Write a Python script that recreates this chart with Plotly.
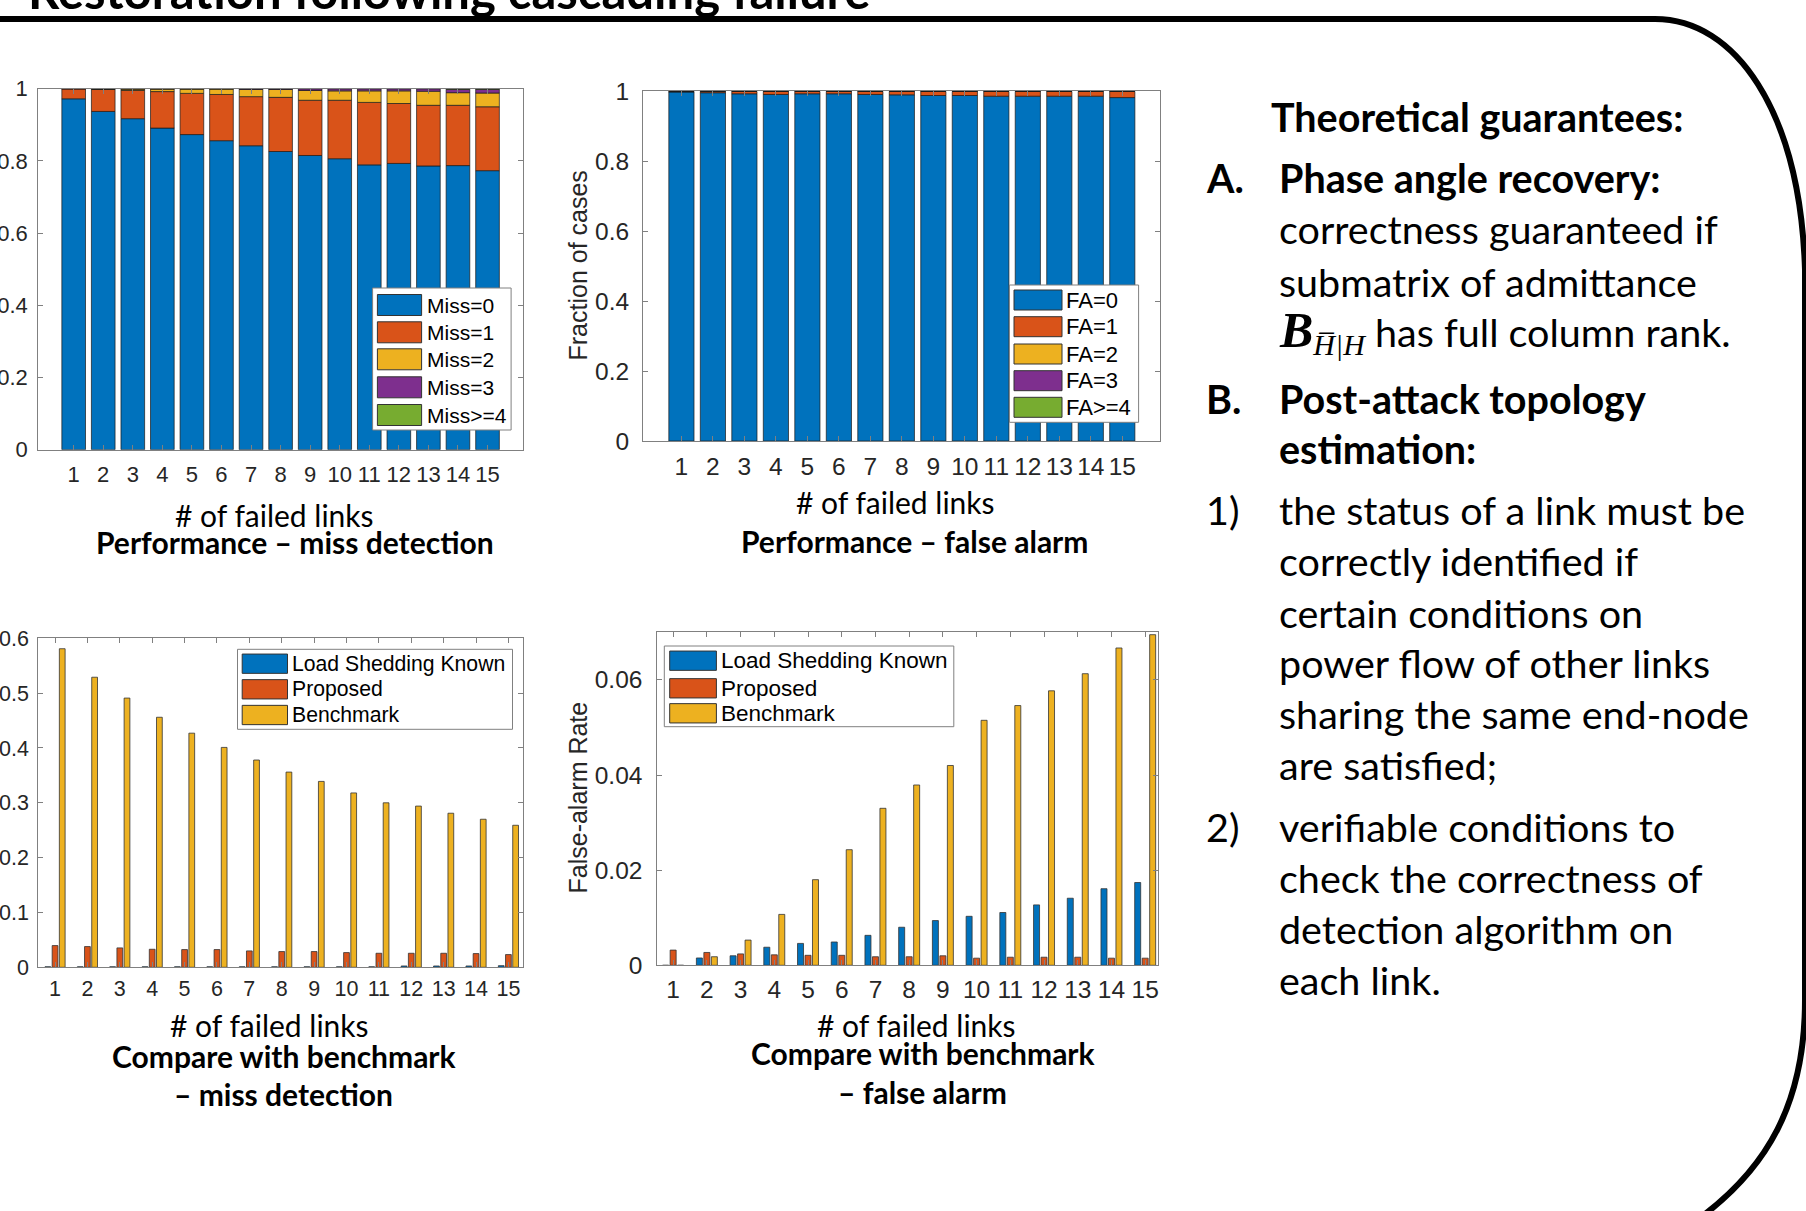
import plotly.graph_objects as go
import numpy as np

W, H = 1806, 1211

# ---------------- data ----------------
failed_links = list(range(1, 16))
x_tick_labels = [str(i) for i in failed_links]

miss0 = [0.972, 0.937, 0.917, 0.891, 0.873, 0.856, 0.842, 0.826, 0.815, 0.806, 0.789, 0.793, 0.786, 0.787, 0.773]
miss1 = [0.028, 0.061, 0.078, 0.101, 0.114, 0.128, 0.136, 0.150, 0.153, 0.162, 0.173, 0.166, 0.168, 0.167, 0.177]
miss2 = [0.000, 0.001, 0.004, 0.007, 0.012, 0.015, 0.020, 0.022, 0.027, 0.026, 0.032, 0.035, 0.039, 0.035, 0.038]
miss3 = [0.000, 0.001, 0.001, 0.001, 0.001, 0.001, 0.002, 0.002, 0.005, 0.006, 0.006, 0.006, 0.007, 0.009, 0.010]
miss4 = [0.000, 0.000, 0.000, 0.000, 0.000, 0.000, 0.000, 0.000, 0.000, 0.000, 0.000, 0.000, 0.000, 0.002, 0.002]
miss_names = ["Miss=0", "Miss=1", "Miss=2", "Miss=3", "Miss>=4"]

fa0 = [0.998, 0.996, 0.993, 0.991, 0.993, 0.993, 0.991, 0.990, 0.988, 0.988, 0.986, 0.986, 0.986, 0.986, 0.982]
fa1 = [0.002, 0.004, 0.007, 0.009, 0.007, 0.007, 0.009, 0.010, 0.012, 0.012, 0.014, 0.014, 0.014, 0.014, 0.018]
fa2 = [0.0] * 15
fa3 = [0.0] * 15
fa4 = [0.0] * 15
fa_names = ["FA=0", "FA=1", "FA=2", "FA=3", "FA>=4"]

md_known = [0.001, 0.001, 0.001, 0.001, 0.001, 0.001, 0.001, 0.001, 0.001, 0.001, 0.001, 0.0024, 0.0024, 0.0024, 0.003]
md_proposed = [0.0396, 0.0378, 0.0354, 0.0329, 0.0323, 0.0323, 0.0299, 0.0287, 0.0287, 0.0268, 0.0256, 0.0256, 0.0256, 0.025, 0.0232]
md_benchmark = [0.581, 0.529, 0.491, 0.456, 0.427, 0.401, 0.378, 0.356, 0.339, 0.318, 0.300, 0.294, 0.281, 0.270, 0.259]

fa_known = [0.0, 0.00154, 0.0020, 0.0038, 0.0046, 0.0049, 0.0063, 0.0080, 0.0094, 0.0103, 0.0111, 0.0127, 0.0141, 0.0161, 0.0174]
fa_proposed = [0.0032, 0.0027, 0.0024, 0.0022, 0.0021, 0.0021, 0.0018, 0.0018, 0.0020, 0.0015, 0.0017, 0.0017, 0.0017, 0.0015, 0.0015]
fa_benchmark = [0.0, 0.0018, 0.0053, 0.0107, 0.0180, 0.0243, 0.0330, 0.0379, 0.0420, 0.0515, 0.0546, 0.0577, 0.0613, 0.0667, 0.0695]
cmp_names = ["Load Shedding Known", "Proposed", "Benchmark"]

y_ticks_frac = [0, 0.2, 0.4, 0.6, 0.8, 1]
y_ticktext_frac = ["0", "0.2", "0.4", "0.6", "0.8", "1"]
y_ticks_md = [0, 0.1, 0.2, 0.3, 0.4, 0.5, 0.6]
y_ticktext_md = ["0", "0.1", "0.2", "0.3", "0.4", "0.5", "0.6"]
y_ticks_fa = [0, 0.02, 0.04, 0.06]
y_ticktext_fa = ["0", "0.02", "0.04", "0.06"]

colors = ["#0072BD", "#D95319", "#EDB120", "#7E2F8E", "#77AC30"]

MATLAB_FONT = "Liberation Sans, Arial, sans-serif"
SLIDE_FONT = "Lato, Carlito, Calibri, sans-serif"
TICK_COLOR = "#262626"
AXIS_LINE = "#808080"


def px(x):
    return x / W


def py(y):
    return 1 - y / H


fig = go.Figure()


# ---------------- stacked bars (top) ----------------
def add_stack(series, names, xa, ya):
    base = np.zeros(len(failed_links))
    for i, (vals, nm) in enumerate(zip(series, names)):
        fig.add_trace(go.Bar(
            x=failed_links, y=vals, base=base.copy(), name=nm, width=0.8,
            marker=dict(color=colors[i], line=dict(color="#1a1a1a", width=0.7)),
            xaxis=xa, yaxis=ya, showlegend=False))
        base = base + np.array(vals)


add_stack([miss0, miss1, miss2, miss3, miss4], miss_names, "x", "y")
add_stack([fa0, fa1, fa2, fa3, fa4], fa_names, "x2", "y2")

# ---------------- grouped bars (bottom) ----------------
slot = 0.222
bw = 0.178


def add_group(series, xa, ya):
    for i, vals in enumerate(series):
        center = (i - 1) * slot
        fig.add_trace(go.Bar(
            x=failed_links, y=vals, name=cmp_names[i], width=bw,
            offset=center - bw / 2,
            marker=dict(color=colors[i], line=dict(color="#333333", width=0.8)),
            xaxis=xa, yaxis=ya, showlegend=False))


add_group([md_known, md_proposed, md_benchmark], "x3", "y3")
add_group([fa_known, fa_proposed, fa_benchmark], "x4", "y4")


# ---------------- axes ----------------
def ax(domain, rng, tickvals, ticktext, anchor, standoff, size):
    return dict(domain=domain, range=rng, tickvals=tickvals, ticktext=ticktext,
                anchor=anchor, showline=True, linecolor=AXIS_LINE, linewidth=1,
                mirror="ticks", ticks="inside", ticklen=5, tickcolor=AXIS_LINE,
                showgrid=False, zeroline=False, fixedrange=True, automargin=False,
                ticklabelstandoff=standoff,
                tickfont=dict(family=MATLAB_FONT, size=size, color=TICK_COLOR))


fig.update_layout(
    xaxis=ax([px(38.2), px(523)], [-0.2, 16.2], failed_links, x_tick_labels, "y", 5, 22),
    yaxis=ax([py(449.7), py(88.7)], [0, 1], y_ticks_frac, y_ticktext_frac, "x", 5, 22),
    xaxis2=ax([px(643), px(1160.4)], [-0.22, 16.21], failed_links, x_tick_labels, "y2", 4, 24.5),
    yaxis2=ax([py(441), py(91.3)], [0, 1], y_ticks_frac, y_ticktext_frac, "x2", 8, 24.5),
    xaxis3=ax([px(38.2), px(523)], [0.48, 15.45], failed_links, x_tick_labels, "y3", 2, 21.5),
    yaxis3=ax([py(967.3), py(638.3)], [0, 0.6], y_ticks_md, y_ticktext_md, "x3", 4, 21.5),
    xaxis4=ax([px(657.3), px(1158)], [0.53, 15.38], failed_links, x_tick_labels, "y4", 2, 24.5),
    yaxis4=ax([py(965.3), py(632.3)], [0, 0.07], y_ticks_fa, y_ticktext_fa, "x4", 9, 24.5),
)

shapes = []
annotations = []


def text(t, x, y, size, bold=False, family=SLIDE_FONT, anchor="center", color="#000000", angle=0):
    annotations.append(dict(
        text=("<b>%s</b>" % t) if bold else t, x=px(x), y=py(y), xref="paper", yref="paper",
        xanchor=anchor, yanchor="middle", showarrow=False, textangle=angle,
        font=dict(family=family, size=size, color=color)))


# ---------------- custom legends ----------------
def legend(box, sw_x, rows, sw_h, text_x, names, size):
    x0, y0, x1, y1 = box
    shapes.append(dict(type="rect", xref="paper", yref="paper", x0=px(x0), x1=px(x1),
                       y0=py(y1), y1=py(y0), fillcolor="white",
                       line=dict(color=AXIS_LINE, width=1), layer="above"))
    for i, (yc, nm) in enumerate(zip(rows, names)):
        shapes.append(dict(type="rect", xref="paper", yref="paper",
                           x0=px(sw_x[0]), x1=px(sw_x[1]),
                           y0=py(yc + sw_h / 2), y1=py(yc - sw_h / 2),
                           fillcolor=colors[i], line=dict(color="#333333", width=1),
                           layer="above"))
        text(nm, text_x, yc, size, family=MATLAB_FONT, anchor="left")


legend((372.6, 288, 511.1, 430), (377.4, 421.6), [305, 332.3, 359.3, 387.3, 415], 21, 424.5, miss_names, 21)
legend((1009.4, 285, 1138.6, 422.3), (1014, 1062), [300, 326.7, 354, 380.7, 407.3], 20, 1064, fa_names, 22)
legend((237.5, 649.3, 512.5, 729.3), (242.2, 287.5), [663.7, 689.3, 715], 19.3, 289.5, cmp_names, 21.2)
legend((664.3, 646, 953.8, 726.7), (669.7, 716.4), [660.7, 688.3, 713.3], 19.3, 719, cmp_names, 22.5)

# ---------------- y-axis titles ----------------
text("Fraction of cases", 577.5, 266, 25, family=MATLAB_FONT, color=TICK_COLOR, angle=-90)
text("False-alarm Rate", 577.5, 798, 25, family=MATLAB_FONT, color=TICK_COLOR, angle=-90)

# ---------------- captions ----------------
CS = 30
text("# of failed links", 274.5, 515, CS)
text("Performance – miss detection", 294.8, 542, CS, bold=True)
text("# of failed links", 895.4, 502, CS)
text("Performance – false alarm", 914.9, 541, CS, bold=True)
text("# of failed links", 269.4, 1025, CS)
text("Compare with benchmark", 284.6, 1056, CS, bold=True)
text("– miss detection", 283.8, 1094, CS, bold=True)
text("# of failed links", 916, 1025, CS)
text("Compare with benchmark", 923.8, 1053, CS, bold=True)
text("– false alarm", 922.8, 1092, CS, bold=True)

# ---------------- slide title (cut off at top) ----------------
text("Restoration following cascading failure", 26, -10, 49, bold=True, anchor="left")

# ---------------- right-hand text ----------------
RS = 39.5
TX = 1276.5
LX = 1203.5
text("Theoretical guarantees:", 1268.5, 116.7, RS, bold=True, anchor="left")
text("A.", LX, 178, RS, bold=True, anchor="left")
text("Phase angle recovery:", TX, 178, RS, bold=True, anchor="left")
text("correctness guaranteed if", TX, 228.2, RS, anchor="left")
text("submatrix of admittance", TX, 281, RS, anchor="left")
text("<span style=\"font-family:'Liberation Serif';font-size:50px\"><b><i>B</i></b></span>"
     "<sub><span style=\"font-family:'Liberation Serif';font-size:30px\"><i>H\u0305|H</i></span></sub>"
     " has full column rank.", TX, 331.7, RS, anchor="left")
text("B.", LX, 398.2, RS, bold=True, anchor="left")
text("Post-attack topology", TX, 398.2, RS, bold=True, anchor="left")
text("estimation:", TX, 449, RS, bold=True, anchor="left")
text("1)", LX, 509.7, RS, anchor="left")
for t, yc in [("the status of a link must be", 509.7), ("correctly identified if", 560.3),
              ("certain conditions on", 612.2), ("power flow of other links", 662.9),
              ("sharing the same end-node", 713.5), ("are satisfied;", 764.2)]:
    text(t, TX, yc, RS, anchor="left")
text("2)", LX, 826.4, RS, anchor="left")
for t, yc in [("verifiable conditions to", 826.4), ("check the correctness of", 877.1),
              ("detection algorithm on", 928.9), ("each link.", 979.6)]:
    text(t, TX, yc, RS, anchor="left")

# ---------------- rounded frame ----------------
pts = [("M", [(0, 19)]), ("L", [(1655, 19)]),
       ("C", [(1735, 19), (1800, 110), (1805, 270)]),
       ("L", [(1805, 1000)]),
       ("C", [(1805, 1100), (1770, 1170), (1690, 1225)])]
path = " ".join(cmd + " " + " ".join("%.5f,%.5f" % (px(a), py(b)) for a, b in p) for cmd, p in pts)
shapes.append(dict(type="path", path=path, xref="paper", yref="paper",
                   line=dict(color="black", width=6), layer="above"))

fig.update_layout(
    width=W, height=H, margin=dict(l=0, r=0, t=0, b=0, pad=0, autoexpand=False),
    paper_bgcolor="white", plot_bgcolor="white",
    barmode="overlay", showlegend=False,
    shapes=shapes, annotations=annotations,
)

fig.write_html("out.html", config={"displayModeBar": False},
               post_script="document.body.style.margin='0px';document.body.style.overflow='hidden';")
